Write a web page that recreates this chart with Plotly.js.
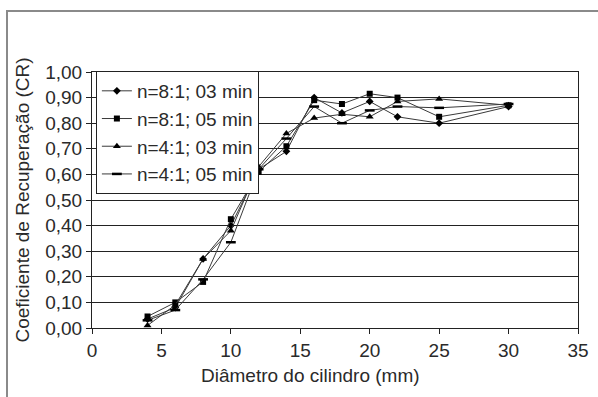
<!DOCTYPE html>
<html>
<head>
<meta charset="utf-8">
<script src="https://cdn.plot.ly/plotly-3.0.1.min.js"></script>
<style>
  html, body { margin: 0; padding: 0; background: #fff; }
  #wrap { position: relative; width: 598px; height: 397px; overflow: hidden; }
  #chart { position: absolute; left: 0; top: 0; width: 598px; height: 397px; }
  #frame { position: absolute; left: 6px; top: 10px; width: 600px; height: 400px;
           border-top: 2px solid #8a8a8a; border-left: 2px solid #8a8a8a; pointer-events: none; }
</style>
</head>
<body>
<div id="wrap">
  <div id="chart"></div>
  <div id="frame"></div>
</div>
<script>
// Data
const diametros = [4, 6, 8, 10, 12, 14, 16, 18, 20, 22, 25, 30];
const nomes = ["n=8:1; 03 min", "n=8:1; 05 min", "n=4:1; 03 min", "n=4:1; 05 min"];
const cr_8_1_03 = [0.035, 0.08, 0.27, 0.40, 0.62, 0.69, 0.90, 0.84, 0.885, 0.825, 0.80, 0.865];
const cr_8_1_05 = [0.045, 0.10, 0.18, 0.425, 0.61, 0.71, 0.89, 0.875, 0.915, 0.90, 0.825, 0.87];
const cr_4_1_03 = [0.01, 0.09, 0.27, 0.38, 0.63, 0.76, 0.82, 0.835, 0.825, 0.885, 0.895, 0.87];
const cr_4_1_05 = [0.03, 0.07, 0.19, 0.335, 0.62, 0.74, 0.865, 0.80, 0.85, 0.865, 0.86, 0.875];
const yTicks = [0, 0.1, 0.2, 0.3, 0.4, 0.5, 0.6, 0.7, 0.8, 0.9, 1.0];
const xTicks = [0, 5, 10, 15, 20, 25, 30, 35];
const xTitle = "Diâmetro do cilindro (mm)";
const yTitle = "Coeficiente de Recuperação (CR)";

const series = [cr_8_1_03, cr_8_1_05, cr_4_1_03, cr_4_1_05];
const markerStyles = [
  {symbol: "diamond", size: 6, color: "#000"},
  {symbol: "square", size: 6, color: "#000"},
  {symbol: "triangle-up", size: 7, color: "#000"},
  {symbol: "line-ew", size: 7, color: "#000", line: {width: 2.5, color: "#000"}}
];

const traces = series.map((ys, i) => ({
  type: "scatter",
  mode: "lines+markers",
  name: nomes[i],
  x: diametros,
  y: ys,
  line: {color: "#3a3a3a", width: 1},
  marker: markerStyles[i]
}));

const fontFam = "'Liberation Sans', Arial, sans-serif";

const layout = {
  width: 598,
  height: 397,
  margin: {l: 92, r: 20, t: 72, b: 69},
  paper_bgcolor: "#fff",
  plot_bgcolor: "#fff",
  separators: ",.",
  font: {family: fontFam, color: "#2a2a2a", size: 19},
  showlegend: true,
  legend: {
    x: 0.008, y: 1.004, xanchor: "left", yanchor: "top",
    bgcolor: "#fff", bordercolor: "#222", borderwidth: 1,
    font: {family: fontFam, size: 19, color: "#2a2a2a"},
    itemwidth: 30,
    tracegroupgap: 0
  },
  xaxis: {
    range: [0, 35],
    tickvals: xTicks,
    ticks: "outside", ticklen: 5, tickcolor: "#222",
    showgrid: false, zeroline: false,
    showline: true, linecolor: "#222", linewidth: 1, mirror: true,
    tickfont: {size: 19}
  },
  yaxis: {
    range: [0, 1.0],
    tickvals: yTicks,
    tickformat: ".2f",
    ticks: "outside", ticklen: 5, tickcolor: "#222",
    showgrid: true, gridcolor: "#222", gridwidth: 1,
    zeroline: false,
    showline: true, linecolor: "#222", linewidth: 1, mirror: true,
    tickfont: {size: 19},
    title: {text: yTitle, font: {size: 19}, standoff: 10}
  },
  annotations: [{
    text: xTitle, xref: "paper", yref: "paper",
    x: 0.449, y: -0.135, xanchor: "center", yanchor: "top",
    showarrow: false, font: {size: 19, color: "#2a2a2a"}
  }]
};

Plotly.newPlot("chart", traces, layout, {staticPlot: true, displayModeBar: false});
</script>
</body>
</html>
